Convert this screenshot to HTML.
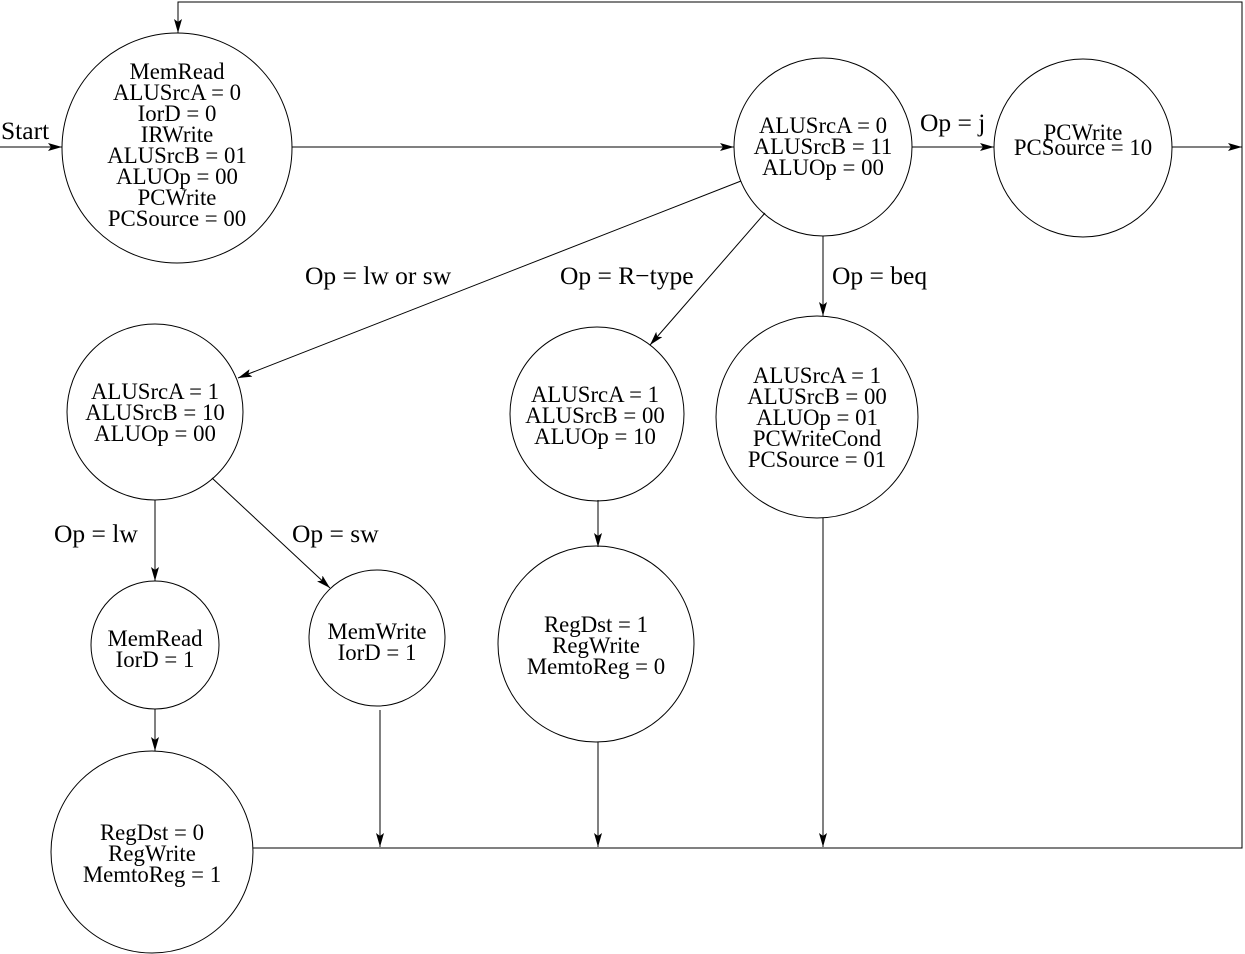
<!DOCTYPE html>
<html><head><meta charset="utf-8"><style>
html,body{margin:0;padding:0;background:#fff;}
svg{display:block;}
text{font-family:"Liberation Serif",serif;font-size:22.8px;fill:#000;text-anchor:middle;}
.l{text-anchor:start;font-size:25.5px;}
</style></head><body>
<svg width="1245" height="954" viewBox="0 0 1245 954" xmlns="http://www.w3.org/2000/svg">
<defs><marker id="a" markerWidth="14" markerHeight="8" refX="14" refY="4" orient="auto" markerUnits="userSpaceOnUse"><path d="M0,0 L14,4 L0,8 L3,4 z" fill="#000"/></marker></defs>
<g fill="none" stroke="#000" stroke-width="1">
<circle cx="177" cy="148" r="115"/>
<circle cx="823" cy="147" r="89"/>
<circle cx="1083" cy="148" r="89"/>
<circle cx="155" cy="412" r="88"/>
<circle cx="597" cy="414" r="87"/>
<circle cx="817" cy="417" r="101"/>
<circle cx="155" cy="645" r="64"/>
<circle cx="377" cy="638" r="68"/>
<circle cx="596" cy="644" r="98"/>
<circle cx="152" cy="852" r="101"/>
<line x1="0" y1="147" x2="62" y2="147" marker-end="url(#a)"/>
<line x1="292" y1="147" x2="734" y2="147" marker-end="url(#a)"/>
<line x1="912" y1="147" x2="994" y2="147" marker-end="url(#a)"/>
<line x1="1172" y1="147" x2="1242" y2="147" marker-end="url(#a)"/>
<polyline points="253,848 1242,848 1242,2 178,2 178,33" marker-end="url(#a)"/>
<line x1="741" y1="181" x2="238" y2="378" marker-end="url(#a)"/>
<line x1="765" y1="213" x2="650" y2="345" marker-end="url(#a)"/>
<line x1="823" y1="236" x2="823" y2="316" marker-end="url(#a)"/>
<line x1="155" y1="500" x2="155" y2="581" marker-end="url(#a)"/>
<line x1="212" y1="478" x2="330" y2="588" marker-end="url(#a)"/>
<line x1="598" y1="500" x2="598" y2="547" marker-end="url(#a)"/>
<line x1="155" y1="709" x2="155" y2="751" marker-end="url(#a)"/>
<line x1="380" y1="710" x2="380" y2="847" marker-end="url(#a)"/>
<line x1="598" y1="742" x2="598" y2="847" marker-end="url(#a)"/>
<line x1="823" y1="518" x2="823" y2="847" marker-end="url(#a)"/>
</g>
<text class="l" x="1" y="139">Start</text>
<text x="177" y="79">MemRead</text>
<text x="177" y="100">ALUSrcA = 0</text>
<text x="177" y="121">IorD = 0</text>
<text x="177" y="142">IRWrite</text>
<text x="177" y="163">ALUSrcB = 01</text>
<text x="177" y="184">ALUOp = 00</text>
<text x="177" y="205">PCWrite</text>
<text x="177" y="226">PCSource = 00</text>
<text x="823" y="133">ALUSrcA = 0</text>
<text x="823" y="154">ALUSrcB = 11</text>
<text x="823" y="175">ALUOp = 00</text>
<text class="l" x="920" y="131">Op = j</text>
<text x="1083" y="140">PCWrite</text>
<text x="1083" y="155">PCSource = 10</text>
<text class="l" x="305" y="284">Op = lw or sw</text>
<text class="l" x="560" y="284">Op = R−type</text>
<text class="l" x="832" y="284">Op = beq</text>
<text x="155" y="399">ALUSrcA = 1</text>
<text x="155" y="420">ALUSrcB = 10</text>
<text x="155" y="441">ALUOp = 00</text>
<text x="595" y="402">ALUSrcA = 1</text>
<text x="595" y="423">ALUSrcB = 00</text>
<text x="595" y="444">ALUOp = 10</text>
<text x="817" y="383">ALUSrcA = 1</text>
<text x="817" y="404">ALUSrcB = 00</text>
<text x="817" y="425">ALUOp = 01</text>
<text x="817" y="446">PCWriteCond</text>
<text x="817" y="467">PCSource = 01</text>
<text class="l" x="54" y="542">Op = lw</text>
<text class="l" x="292" y="542">Op = sw</text>
<text x="155" y="646">MemRead</text>
<text x="155" y="667">IorD = 1</text>
<text x="377" y="639">MemWrite</text>
<text x="377" y="660">IorD = 1</text>
<text x="596" y="632">RegDst = 1</text>
<text x="596" y="653">RegWrite</text>
<text x="596" y="674">MemtoReg = 0</text>
<text x="152" y="840">RegDst = 0</text>
<text x="152" y="861">RegWrite</text>
<text x="152" y="882">MemtoReg = 1</text>
</svg>
</body></html>
